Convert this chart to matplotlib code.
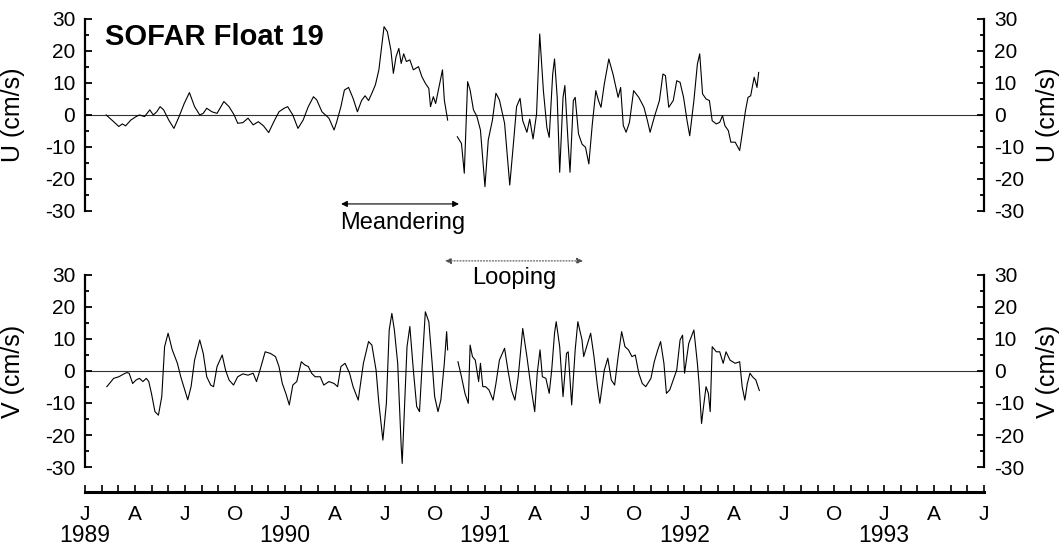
import numpy as np
import matplotlib
matplotlib.use("Agg")
import matplotlib.pyplot as plt
from matplotlib.ticker import MultipleLocator, FixedLocator

plt.rcParams['font.family'] = ['Liberation Sans', 'DejaVu Sans']

nan = float('nan')

# time in months since 1 Jan 1989; nan marks the data gap (Nov 1990)
u_time = [1.27, 1.72, 2.03, 2.24, 2.44, 2.75, 3.07, 3.27, 3.58, 3.89, 4.10, 4.31, 4.51, 4.72,
          5.03, 5.34, 5.65, 5.96, 6.27, 6.58, 6.89, 7.10, 7.31, 7.62, 7.93, 8.34, 8.65, 8.96,
          9.17, 9.48, 9.79, 10.10, 10.41, 10.72, 11.03, 11.34, 11.65, 11.96, 12.17, 12.48,
          12.79, 13.10, 13.41, 13.72, 13.92, 14.23, 14.65, 14.96, 15.12, 15.37, 15.58, 15.83,
          16.10, 16.36, 16.61, 16.82, 17.03, 17.23, 17.44, 17.65, 17.96, 18.16, 18.37, 18.52,
          18.68, 18.85, 18.99, 19.14, 19.30, 19.51, 19.72, 20.03, 20.23, 20.44, 20.65, 20.75,
          20.92, 21.06, 21.27, 21.47, 21.58, 21.78, 22.05,
          22.36, 22.61, 22.78, 22.98, 23.13, 23.33, 23.54, 23.75, 24.02, 24.22, 24.47, 24.68,
          24.89, 25.20, 25.51, 25.75, 25.92, 26.13, 26.29, 26.54, 26.71, 26.91, 27.12, 27.31,
          27.53, 27.74, 27.88, 28.09, 28.20, 28.36, 28.51, 28.71, 28.82, 29.02, 29.13, 29.33,
          29.44, 29.64, 29.85, 30.06, 30.26, 30.47, 30.68, 30.84, 30.99, 31.19, 31.46, 31.71,
          32.02, 32.17, 32.33, 32.50, 32.70, 32.95, 33.26, 33.57, 33.78, 33.94, 34.19, 34.50,
          34.71, 34.86, 35.06, 35.33, 35.54, 35.74, 35.95, 36.16, 36.32, 36.57, 36.78, 36.92,
          37.09, 37.30, 37.50, 37.67, 37.92, 38.12, 38.29, 38.43, 38.64, 38.79, 39.05, 39.32,
          39.47, 39.67, 39.82, 39.98, 40.19, 40.36, 40.46]
u_vals = [0.0, -2.1, -3.6, -2.8, -3.4, -1.6, -0.5, 0.0, -0.5, 1.6, 0.0, 1.0, 2.6, 1.6,
          -1.6, -4.2, -0.5, 3.6, 7.0, 2.6, 0.0, 0.5, 2.1, 1.0, 0.5, 4.2, 2.6, 0.0,
          -2.6, -2.4, -1.0, -3.1, -2.1, -3.4, -5.5, -2.1, 1.0, 2.1, 2.6, 0.0,
          -4.2, -1.6, 2.6, 5.7, 4.7, 1.0, -1.0, -4.7, -2.1, 2.6, 7.8, 8.6,
          5.2, 1.0, 4.5, 6.0, 4.5, 6.8, 9.4, 14.1, 27.6, 26.0, 20.3, 13.0,
          18.2, 20.8, 16.1, 19.1, 16.7, 17.2, 14.1, 15.1, 12.0, 9.9, 8.3, 2.6,
          5.7, 3.6, 8.9, 14.1, 4.7, -1.6, nan,
          -6.8, -8.9, -18.2, 10.4, 7.8, 1.6, -0.5, -4.7, -22.4, -7.8, -1.6, 6.8,
          4.7, -2.6, -21.9, -7.8, 2.6, 5.2, -1.8, -5.4, -1.3, -7.5, 0.3, 25.3,
          7.6, -3.9, -7.0, 12.8, 17.5, 5.5, -17.9, 5.5, 9.2, -9.1, -17.9, 4.5,
          5.5, -5.9, -9.1, -10.1, -15.3, -2.8, 7.6, 4.5, 2.4, 9.7, 17.5, 12.8,
          5.5, 8.6, -3.3, -5.4, -2.3, 7.6, 5.5, 2.4, -1.8, -5.4, -0.7, 4.5,
          12.8, 12.3, 2.4, 4.5, 10.7, 10.2, 5.5, -1.8, -6.5, 4.5, 15.9, 19.1,
          6.6, 5.0, 4.5, -1.8, -2.8, -2.3, -0.2, -3.3, -4.9, -8.5, -8.5, -11.1,
          -5.9, 1.4, 5.5, 6.0, 11.8, 8.6, 13.3]

v_time = [1.31, 1.72, 2.03, 2.34, 2.51, 2.65, 2.86, 3.07, 3.27, 3.48, 3.68, 3.83, 3.99, 4.20,
          4.41, 4.61, 4.78, 4.99, 5.24, 5.55, 5.75, 5.96, 6.17, 6.37, 6.58, 6.89, 7.10, 7.31,
          7.55, 7.72, 7.93, 8.24, 8.44, 8.65, 8.92, 9.17, 9.48, 9.79, 10.10, 10.30, 10.51,
          10.82, 11.13, 11.44, 11.65, 11.85, 12.06, 12.27, 12.48, 12.72, 12.99, 13.20, 13.41,
          13.61, 13.82, 14.13, 14.34, 14.65, 14.96, 15.17, 15.37, 15.62, 15.89, 16.10, 16.41,
          16.72, 17.03, 17.23, 17.48, 17.65, 17.89, 18.10, 18.27, 18.43, 18.58, 18.78, 18.99,
          19.05, 19.20, 19.34, 19.51, 19.72, 19.92, 20.09, 20.23, 20.44, 20.65, 20.85, 21.00,
          21.20, 21.37, 21.58, 21.72, 21.78, 22.05,
          22.40, 22.61, 22.82, 23.02, 23.13, 23.27, 23.44, 23.64, 23.75, 23.89, 24.06, 24.26,
          24.51, 24.68, 24.89, 25.20, 25.40, 25.61, 25.82, 26.02, 26.29, 26.54, 26.78, 27.01,
          27.16, 27.33, 27.47, 27.68, 27.88, 28.03, 28.20, 28.30, 28.51, 28.71, 28.92, 29.02,
          29.23, 29.44, 29.60, 29.85, 29.95, 30.16, 30.37, 30.57, 30.78, 30.92, 31.19, 31.40,
          31.61, 31.81, 32.02, 32.23, 32.43, 32.64, 32.85, 33.05, 33.26, 33.47, 33.68, 33.99,
          34.19, 34.40, 34.57, 34.77, 34.92, 35.12, 35.33, 35.54, 35.74, 35.89, 36.01, 36.26,
          36.57, 36.78, 36.88, 37.03, 37.15, 37.30, 37.44, 37.55, 37.67, 37.92, 38.12, 38.33,
          38.50, 38.74, 39.05, 39.32, 39.47, 39.63, 39.78, 39.94, 40.09, 40.29, 40.50]
v_vals = [-4.9, -2.3, -1.8, -0.9, -0.5, -0.7, -3.9, -2.8, -2.3, -3.3, -2.3, -3.3, -7.0, -12.7,
          -13.8, -8.0, 7.6, 11.8, 6.6, 2.4, -1.8, -5.4, -9.0, -4.9, 3.4, 9.7, 5.5, -1.8,
          -4.4, -4.9, 1.4, 5.0, 0.3, -2.8, -4.4, -1.8, -0.9, -1.3, -0.7, -3.3, 0.3,
          6.0, 5.5, 4.5, 1.4, -3.9, -7.0, -10.6, -4.4, -3.3, 2.9, 1.9, 1.4,
          -0.7, -1.8, -1.8, -4.4, -3.3, -3.9, -4.9, 1.4, 2.4, -0.7, -4.9, -9.1,
          2.4, 9.2, 8.1, 0.3, -10.1, -21.6, -10.1, 12.8, 18.0, 12.8, 2.4, -23.6,
          -28.9, -10.1, 7.6, 13.9, 0.3, -11.1, -12.7, 0.3, 18.5, 15.4, 2.4, -8.0,
          -12.7, -9.1, 2.4, 12.3, 6.6, nan,
          2.9, -1.8, -7.0, -10.1, 8.1, 4.5, 3.4, -3.3, 2.4, -4.9, -4.9, -5.9,
          -9.1, -3.9, 3.4, 7.1, 0.3, -5.9, -9.1, -1.8, 13.3, 4.5, -4.9, -12.7,
          -0.7, 6.6, -1.8, -2.3, -7.0, 0.3, 11.8, 15.4, 7.6, -8.0, 5.5, 6.0,
          -10.6, 6.6, 15.4, 9.7, 4.5, 8.1, 11.8, 4.5, -4.9, -10.1, 0.3, 4.0,
          -2.8, -4.4, 4.5, 12.3, 7.6, 6.6, 4.5, 5.0, -0.7, -3.9, -4.9, -2.3,
          2.9, 6.6, 9.2, 2.4, -7.0, -5.9, -2.8, 0.3, 9.7, 11.2, -0.7, 8.6,
          12.8, 2.4, -3.9, -16.4, -11.1, -4.9, -7.0, -12.7, 7.6, 6.0, 6.0, 2.4,
          6.0, 3.4, 2.4, 2.9, -4.9, -9.1, -3.9, -0.7, -1.8, -2.8, -6.1]

month_ticks = list(range(0, 55))
label_ticks = list(range(0, 55, 3))
month_letters = ['J', 'A', 'J', 'O']
years = ['1989', '1990', '1991', '1992', '1993']
year_ticks = [0, 12, 24, 36, 48]

fig = plt.figure(figsize=(10.64, 5.48), dpi=100)
ax_u = fig.add_axes([0.0799, 0.6150, 0.845, 0.3504])
ax_v = fig.add_axes([0.0799, 0.1478, 0.845, 0.3504])
# keep the annotations of the top panel above the lower panel
ax_u.set_zorder(3)
ax_u.patch.set_visible(False)

for ax, t, vals, name in [(ax_u, u_time, u_vals, 'U (cm/s)'), (ax_v, v_time, v_vals, 'V (cm/s)')]:
    ax.axhline(0, color='0.2', lw=0.8, zorder=1)
    ax.plot(t, vals, color='black', lw=0.8, zorder=2)
    ax.set_xlim(0, 54)
    ax.set_ylim(-30, 30)
    ax.spines['top'].set_visible(False)
    ax.spines['left'].set_linewidth(1.6)
    ax.spines['right'].set_linewidth(1.6)
    ax.yaxis.set_major_locator(MultipleLocator(10))
    ax.yaxis.set_minor_locator(MultipleLocator(5))
    ax.tick_params(axis='y', which='both', direction='in', left=True, right=True,
                   labelleft=True, labelright=True, labelsize=15, pad=7, width=1.3)
    ax.tick_params(axis='y', which='major', length=5)
    ax.tick_params(axis='y', which='minor', length=3)
    ax.set_yticks([-30, -20, -10, 0, 10, 20, 30])
    ax.set_yticklabels(['-30', '-20', '-10', '0', '10', '20', '30'])
    ax.set_ylabel(name, fontsize=18)
    ax.yaxis.set_label_coords(-0.067, 0.5)
    ax.text(1.071, 0.5, name, transform=ax.transAxes, rotation=90, fontsize=18,
            ha='center', va='center')

ax_u.spines['bottom'].set_visible(False)
ax_u.tick_params(axis='x', which='both', bottom=False, labelbottom=False)

ax_v.spines['bottom'].set_position(('outward', 18))
ax_v.spines['bottom'].set_linewidth(2.2)
ax_v.xaxis.set_major_locator(FixedLocator(label_ticks))
ax_v.xaxis.set_minor_locator(FixedLocator(month_ticks))
ax_v.set_xticklabels([month_letters[(m // 3) % 4] for m in label_ticks])
ax_v.tick_params(axis='x', which='both', direction='in', length=5, width=1.2,
                 labelsize=15, pad=9)
for m, yr in zip(year_ticks, years):
    ax_v.text(m, -0.355, yr, transform=ax_v.get_xaxis_transform(), fontsize=16.5,
              ha='center', va='center', clip_on=False)

ax_u.text(1.2, 24.3, 'SOFAR Float 19', fontsize=21, fontweight='bold', va='center')

# regime annotations
ax_u.annotate('', xy=(15.38, -27.8), xytext=(22.46, -27.8), annotation_clip=False,
              arrowprops=dict(arrowstyle='<|-|>', color='black', lw=0.8,
                              mutation_scale=9, shrinkA=0, shrinkB=0))
ax_u.text(19.1, -33.6, 'Meandering', fontsize=17, ha='center', va='center', clip_on=False)
ax_u.annotate('', xy=(21.62, -45.6), xytext=(29.91, -45.6), annotation_clip=False,
              arrowprops=dict(arrowstyle='<|-|>', color='0.3', lw=0.8, ls=':',
                              mutation_scale=9, shrinkA=0, shrinkB=0))
ax_u.text(25.8, -51.0, 'Looping', fontsize=17, ha='center', va='center', clip_on=False)

fig.savefig('out.png', dpi=100)
